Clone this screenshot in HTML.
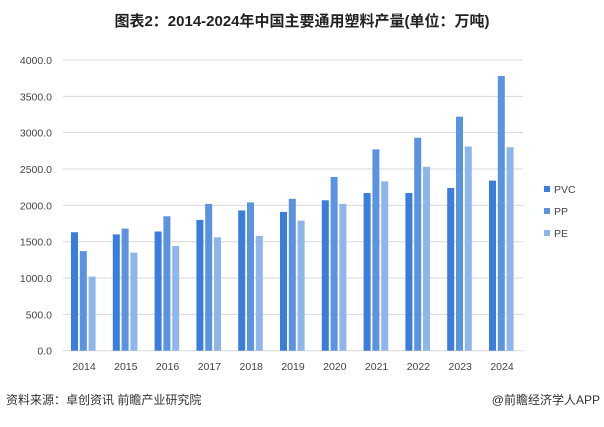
<!DOCTYPE html><html><head><meta charset="utf-8"><style>
body{margin:0;width:604px;height:422px;background:#fff;overflow:hidden;font-family:"Liberation Sans","Noto Sans CJK SC",sans-serif}
</style></head><body>
<svg width="604" height="422" xmlns="http://www.w3.org/2000/svg" font-family="Liberation Sans, Noto Sans CJK SC, sans-serif">
<text x="302" y="26" text-anchor="middle" font-size="15" font-weight="bold" fill="#222">图表2：2014-2024年中国主要通用塑料产量(单位：万吨)</text>
<g id="grid" stroke="#d9d9d9" stroke-width="1"></g>
<g id="bars"></g>
<g font-size="10.5" fill="#444" id="lab"></g>
<g font-size="10.5" fill="#444">
<rect x="544" y="186" width="6" height="6" fill="#3b7ddd"/><text x="554" y="193">PVC</text>
<rect x="544" y="208" width="6" height="6" fill="#5b93e0"/><text x="554" y="215">PP</text>
<rect x="544" y="230" width="6" height="6" fill="#8fb6ea"/><text x="554" y="237">PE</text>
</g>
<text x="6" y="404" font-size="12" fill="#333">资料来源：卓创资讯 前瞻产业研究院</text>
<text x="600" y="404" font-size="12" fill="#333" text-anchor="end">@前瞻经济学人APP</text>
<script>
var ns="http://www.w3.org/2000/svg";
function el(p,t,a,tx){var e=document.createElementNS(ns,t);for(var k in a)e.setAttribute(k,a[k]);if(tx)e.textContent=tx;document.getElementById(p).appendChild(e);}
var y0=350.7,s=290.7/4000;
for(var v=0;v<=4000;v+=500){var y=y0-v*s;el("grid","line",{x1:63,x2:523,y1:y,y2:y});el("lab","text",{x:52,y:y+4,"text-anchor":"end"},v.toFixed(1));}
var d=[[1630,1370,1020],[1600,1680,1350],[1640,1850,1440],[1800,2020,1560],[1930,2040,1580],[1910,2090,1790],[2070,2390,2020],[2170,2770,2330],[2170,2930,2530],[2240,3220,2810],[2340,3780,2800]];
var c=["#3b7ddd","#5b93e0","#8fb6ea"];
for(var i=0;i<11;i++){var cx=84+i*41.8;el("lab","text",{x:cx,y:370,"text-anchor":"middle"},String(2014+i));
for(var j=0;j<3;j++){var h=d[i][j]*s;el("bars","rect",{x:cx-13+j*8.8,y:y0-h,width:7,height:h,fill:c[j]});}}
</script>
</svg>
</body></html>
